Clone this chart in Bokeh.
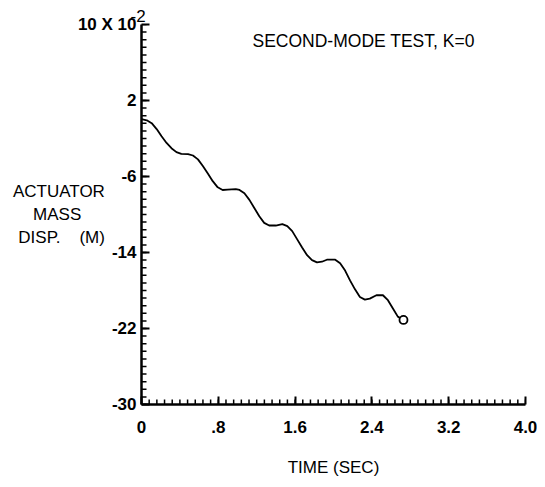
import math
from bokeh.plotting import figure
from bokeh.models import FixedTicker, Label, Title
from bokeh.embed import file_html
from bokeh.resources import INLINE

# ---- data ----
time_sec = [0.0, 0.055, 0.106, 0.158, 0.209, 0.261, 0.312, 0.364, 0.415, 0.485,
            0.536, 0.588, 0.639, 0.691, 0.742, 0.794, 0.845, 0.897, 0.982, 1.021,
            1.072, 1.124, 1.175, 1.227, 1.278, 1.330, 1.399, 1.467, 1.519, 1.570,
            1.622, 1.673, 1.725, 1.776, 1.828, 1.879, 1.931, 2.018, 2.069, 2.121,
            2.172, 2.224, 2.275, 2.327, 2.378, 2.447, 2.515, 2.567, 2.619, 2.670,
            2.729]
disp = [0.03, -0.08, -0.39, -1.01, -1.77, -2.47, -3.02, -3.43, -3.61, -3.64,
        -3.79, -4.20, -4.89, -5.69, -6.49, -7.14, -7.42, -7.38, -7.32, -7.42,
        -7.77, -8.46, -9.32, -10.19, -10.88, -11.16, -11.16, -11.02, -11.23, -11.75,
        -12.62, -13.48, -14.28, -14.80, -15.04, -14.97, -14.76, -14.76, -15.14, -15.90,
        -16.94, -17.88, -18.68, -18.96, -18.85, -18.50, -18.50, -19.02, -19.89, -20.75,
        -21.10]

x_ticks = [0.0, 0.8, 1.6, 2.4, 3.2, 4.0]
x_tick_labels = ["0", ".8", "1.6", "2.4", "3.2", "4.0"]
y_ticks = [-30, -22, -14, -6, 2, 10]
y_tick_labels = ["-30", "-22", "-14", "-6", "2", "10 X 10"]
x_minor = [round(i * 0.08, 2) for i in range(51)]
y_minor = [round(-30 + i * 0.8, 2) for i in range(51)]

X0, X1 = 0.0, 4.0
Y0, Y1 = -30, 10

FONT = "Liberation Sans"
W, H = 537, 479
NB = "\u00a0"

p = figure(width=W, height=H, output_backend="svg", toolbar_location=None,
           x_range=(X0, X1), y_range=(Y0, Y1),
           min_border_left=141, min_border_right=12,
           min_border_top=24, min_border_bottom=70)
p.outline_line_color = None
p.xgrid.visible = False
p.ygrid.visible = False
p.background_fill_color = "white"
p.border_fill_color = "white"

p.xaxis.ticker = FixedTicker(ticks=x_ticks)
p.yaxis.ticker = FixedTicker(ticks=y_ticks)
p.xaxis.major_label_overrides = {t: l for t, l in zip(x_ticks, x_tick_labels)}
p.yaxis.major_label_overrides = {t: l for t, l in zip(y_ticks, y_tick_labels)}

for ax in (p.xaxis, p.yaxis):
    ax.axis_line_width = 2.5
    ax.axis_line_color = "black"
    ax.major_tick_in = 8
    ax.major_tick_out = 0
    ax.minor_tick_in = 0
    ax.minor_tick_out = 0
    ax.major_tick_line_width = 2
    ax.major_tick_line_color = "black"
    ax.major_label_text_font = FONT
    ax.major_label_text_font_size = "17px"
    ax.major_label_text_font_style = "bold"
    ax.major_label_text_color = "black"
    ax.axis_label_text_font = FONT
    ax.axis_label_text_font_size = "17px"
    ax.axis_label_text_font_style = "normal"
    ax.axis_label_text_color = "black"
p.xaxis.major_label_standoff = 16
p.yaxis.major_label_standoff = 5

p.xaxis.axis_label = "TIME (SEC)"
p.xaxis.axis_label_standoff = 22
p.yaxis.axis_label = ("ACTUATOR\nMASS" + NB * 5 + "\nDISP." + NB * 4 + "(M)")
p.yaxis.axis_label_orientation = "horizontal"
p.yaxis.axis_label_standoff = -30

# minor ticks (pointing inward) drawn as short screen-length rays
p.ray(x=[X0] * len(y_minor), y=y_minor, length=5, length_units="screen",
      angle=0, line_color="black", line_width=1.5)
p.ray(x=x_minor, y=[Y0] * len(x_minor), length=5, length_units="screen",
      angle=math.pi / 2, line_color="black", line_width=1.5)

p.line(time_sec, disp, line_color="black", line_width=1.8)
p.scatter([time_sec[-1]], [disp[-1]], size=8, fill_color="white",
          line_color="black", line_width=1.8)

# exponent of the scale factor, above the top of the y axis
p.add_layout(Title(text="-2", align="left", offset=-11, standoff=5,
                   text_font=FONT, text_font_size="17px",
                   text_font_style="normal", text_color="black"), "above")

p.add_layout(Label(x=111, y=364, x_units="screen", y_units="screen",
                   text="SECOND-MODE TEST, K=0", text_align="left",
                   text_baseline="middle", text_font=FONT,
                   text_font_size="17.5px", text_color="black"))

open("out.html", "w").write(file_html(p, INLINE))
